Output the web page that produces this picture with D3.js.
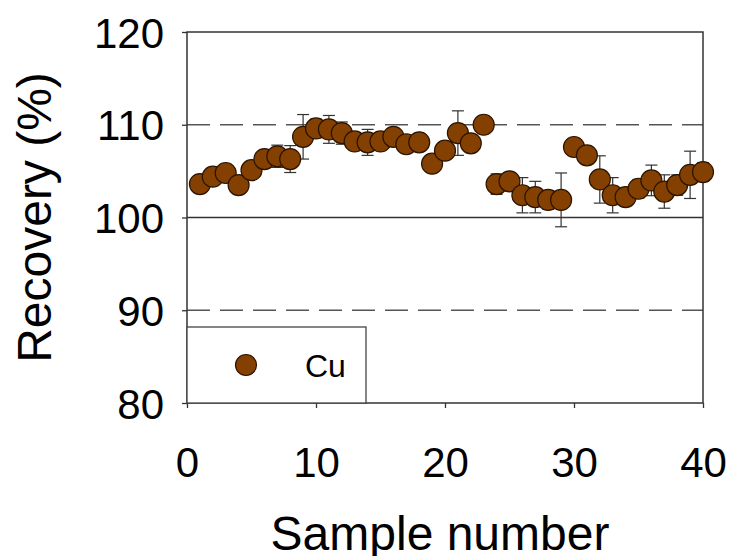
<!DOCTYPE html>
<html>
<head>
<meta charset="utf-8">
<script src="https://cdn.jsdelivr.net/npm/d3@7"></script>
<style>
  body { margin: 0; background: #fff; }
  text { font-family: "Liberation Sans", Arial, sans-serif; fill: #000; }
</style>
</head>
<body>
<div id="content"></div>
<script>
// datas
const samples = d3.range(1, 41);
const recovery = [103.6, 104.4, 104.8, 103.5, 105.1, 106.3, 106.6, 106.3, 108.7, 109.6,
                  109.5, 109.1, 108.2, 108.1, 108.2, 108.7, 107.9, 108.1, 105.8, 107.2,
                  109.1, 108.0, 110.0, 103.6, 103.9, 102.4, 102.2, 101.9, 101.9, 107.6,
                  106.7, 104.1, 102.4, 102.2, 103.1, 104.0, 102.8, 103.5, 104.6, 104.9];
const errors = [0.6, 0.7, 0.6, 0.5, 0.6, 0.9, 1.2, 1.45, 2.4, 1.0,
                1.5, 1.2, 0.8, 1.4, 0.7, 0.8, 0.6, 0.6, 0.5, 0.8,
                2.4, 0.7, 0.5, 1.1, 0.8, 1.9, 1.7, 1.0, 2.9, 0.6,
                0.6, 2.55, 1.9, 0.7, 1.0, 1.65, 1.8, 1.1, 2.55, 1.0];
const xTicks = [0, 10, 20, 30, 40];
const yTicks = [80, 90, 100, 110, 120];
const dashedLevels = [90, 110];
const solidLevels = [100];
const seriesName = "Cu";

// view
const w = 730;
const h = 556;
const pLeft = 187, pRight = 703, pTop = 32, pBottom = 403;
const brown = "#844000";

const svg = d3.select("#content")
            .append("svg")
            .attr("width", w)
            .attr("height", h);

const x = d3.scaleLinear().domain([0, 40]).range([pLeft, pRight]);
const y = d3.scaleLinear().domain([80, 120]).range([pBottom, pTop]);

// reference lines
svg.selectAll("line.dash")
   .data(dashedLevels)
   .enter()
   .append("line")
   .attr("x1", pLeft).attr("x2", pRight)
   .attr("y1", d => y(d)).attr("y2", d => y(d))
   .attr("stroke", "#555")
   .attr("stroke-width", 1.3)
   .attr("stroke-dasharray", "23,10");

svg.selectAll("line.solid")
   .data(solidLevels)
   .enter()
   .append("line")
   .attr("x1", pLeft).attr("x2", pRight)
   .attr("y1", d => y(d)).attr("y2", d => y(d))
   .attr("stroke", "#333")
   .attr("stroke-width", 1.3);

// frame
svg.append("rect")
   .attr("x", pLeft).attr("y", pTop)
   .attr("width", pRight - pLeft).attr("height", pBottom - pTop)
   .attr("fill", "none")
   .attr("stroke", "#333")
   .attr("stroke-width", 1.5);

// axes
const xAxis = svg.append("g")
   .attr("transform", `translate(0,${pBottom})`)
   .call(d3.axisBottom(x).tickValues(xTicks).tickSize(5).tickPadding(69));
const yAxis = svg.append("g")
   .attr("transform", `translate(${pLeft},0)`)
   .call(d3.axisLeft(y).tickValues(yTicks).tickSize(5).tickPadding(18));
[xAxis, yAxis].forEach(g => {
  g.select(".domain").remove();
  g.selectAll(".tick line").attr("stroke", "#333").attr("stroke-width", 1.3);
  g.selectAll(".tick text")
   .attr("font-size", 42)
   .attr("font-family", "Liberation Sans, Arial, sans-serif")
   .attr("fill", "#000");
});
xAxis.selectAll(".tick text").attr("dy", "0");
yAxis.selectAll(".tick text").attr("dy", "0.36em");

// legend
svg.append("rect")
   .attr("x", pLeft).attr("y", 327)
   .attr("width", 366 - pLeft).attr("height", pBottom - 327)
   .attr("fill", "#fff")
   .attr("stroke", "#444")
   .attr("stroke-width", 1.3);
svg.append("circle")
   .attr("cx", 246).attr("cy", 365).attr("r", 10.5)
   .attr("fill", brown).attr("stroke", "#2a1400").attr("stroke-width", 1.2);
svg.append("text")
   .attr("x", 305).attr("y", 377)
   .attr("font-size", 32)
   .text(seriesName);

// error bars
const pts = samples.map((s, i) => ({s: s, v: recovery[i], e: errors[i]}));
const eb = svg.selectAll("g.eb")
   .data(pts)
   .enter()
   .append("g")
   .attr("stroke", "#333")
   .attr("stroke-width", 1.2);
eb.append("line")
  .attr("x1", d => x(d.s)).attr("x2", d => x(d.s))
  .attr("y1", d => y(d.v - d.e)).attr("y2", d => y(d.v + d.e));
eb.append("line")
  .attr("x1", d => x(d.s) - 6).attr("x2", d => x(d.s) + 6)
  .attr("y1", d => y(d.v + d.e)).attr("y2", d => y(d.v + d.e));
eb.append("line")
  .attr("x1", d => x(d.s) - 6).attr("x2", d => x(d.s) + 6)
  .attr("y1", d => y(d.v - d.e)).attr("y2", d => y(d.v - d.e));

// points
svg.selectAll("circle.pt")
   .data(pts)
   .enter()
   .append("circle")
   .attr("class", "pt")
   .attr("cx", d => x(d.s))
   .attr("cy", d => y(d.v))
   .attr("r", 10.5)
   .attr("fill", brown)
   .attr("stroke", "#2a1400")
   .attr("stroke-width", 1.2);

// titles
svg.append("text")
   .attr("x", (pLeft + pRight) / 2 - 5)
   .attr("y", 550)
   .attr("text-anchor", "middle")
   .attr("font-size", 48)
   .text("Sample number");
svg.append("text")
   .attr("transform", `translate(51,${(pTop + pBottom) / 2}) rotate(-90)`)
   .attr("text-anchor", "middle")
   .attr("font-size", 48)
   .text("Recovery (%)");
</script>
</body>
</html>
